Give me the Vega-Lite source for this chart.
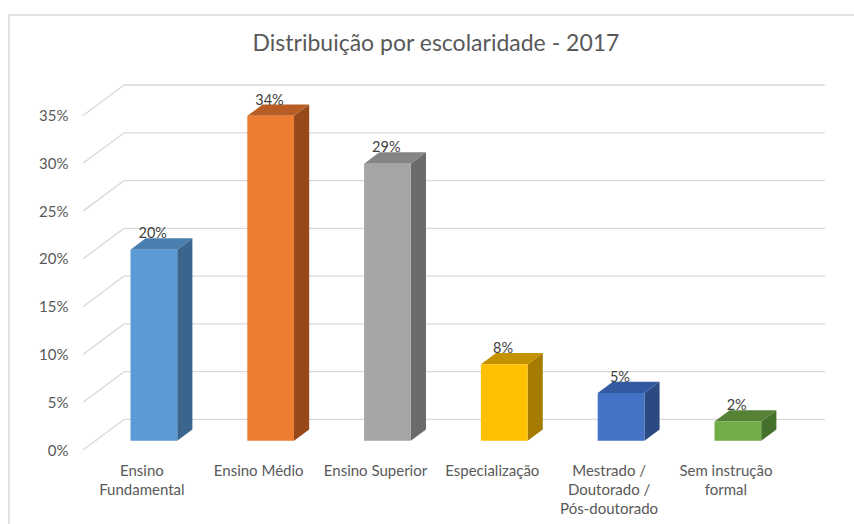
{
  "$schema": "https://vega.github.io/schema/vega-lite/v6.json",
  "width": 846,
  "height": 510,
  "autosize": {"type": "none"},
  "padding": {"left": 9, "top": 15, "right": 0, "bottom": 0},
  "background": "white",
  "config": {
    "view": {"stroke": "#D9D9D9", "strokeWidth": 1.5},
    "font": "Lato",
    "axis": {"domain": false, "ticks": false, "grid": false, "labelFont": "Lato", "labelFontSize": 15, "labelColor": "#595959"}
  },
  "title": {
    "text": "Distribuição por escolaridade - 2017",
    "font": "Lato",
    "fontSize": 23,
    "fontWeight": "normal",
    "color": "#595959",
    "anchor": "middle",
    "baseline": "alphabetic",
    "offset": -34,
    "dx": 4,
    "dy": 25
  },
  "datasets": {
    "bars": [
      {"cat": "Ensino Fundamental", "pct": 20},
      {"cat": "Ensino Médio", "pct": 34},
      {"cat": "Ensino Superior", "pct": 29},
      {"cat": "Especialização", "pct": 8},
      {"cat": "Mestrado / Doutorado / Pós-doutorado", "pct": 5},
      {"cat": "Sem instrução formal", "pct": 2}
    ],
    "ticks": [
      {"t": 0}, {"t": 5}, {"t": 10}, {"t": 15}, {"t": 20}, {"t": 25}, {"t": 30}, {"t": 35}
    ]
  },
  "resolve": {"scale": {"color": "independent"}},
  "layer": [
    {
      "data": {"name": "ticks"},
      "transform": [
        {"calculate": "0", "as": "gx0"},
        {"calculate": "3.2*0.11", "as": "gx1"},
        {"calculate": "datum.t + 3.2", "as": "gy1"}
      ],
      "mark": {"type": "rule", "color": "#D9D9D9", "strokeWidth": 1.3},
      "encoding": {
        "x": {"field": "gx0", "type": "quantitative", "scale": {"domain": [-0.6336, 6.6096], "nice": false, "zero": false},
          "axis": {"orient": "bottom", "offset": -75, "values": [0.5, 1.5, 2.5, 3.5, 4.5, 5.5],
            "labelExpr": "split(['Ensino|Fundamental','Ensino Médio','Ensino Superior','Especialização','Mestrado /|Doutorado /|Pós-doutorado','Sem instrução|formal'][floor(datum.value)], '|')",
            "labelBaseline": "top", "labelPadding": 13, "labelLineHeight": 19, "labelAlign": "center",
            "labelOverlap": false, "labelBound": false, "labelFlush": false, "title": null}},
        "x2": {"field": "gx1"},
        "y": {"field": "t", "type": "quantitative", "scale": {"domain": [-7.849, 45.526], "nice": false, "zero": false},
          "axis": {"orient": "left", "offset": -74, "values": [0, 5, 10, 15, 20, 25, 30, 35],
            "labelExpr": "datum.value + '%'", "labelPadding": 15, "labelOffset": 0, "title": null}},
        "y2": {"field": "gy1"}
      }
    },
    {
      "data": {"name": "ticks"},
      "transform": [
        {"calculate": "3.2*0.11", "as": "gx1"},
        {"calculate": "6 + 3.2*0.11", "as": "gx2"},
        {"calculate": "datum.t + 3.2", "as": "gy1"}
      ],
      "mark": {"type": "rule", "color": "#D9D9D9", "strokeWidth": 1.3},
      "encoding": {
        "x": {"field": "gx1", "type": "quantitative"},
        "x2": {"field": "gx2"},
        "y": {"field": "gy1", "type": "quantitative"}
      }
    },
    {
      "data": {"name": "bars"},
      "transform": [
        {"window": [{"op": "row_number", "as": "rn"}]},
        {"calculate": "datum.rn - 1", "as": "i"},
        {"calculate": "0.97", "as": "dF"},
        {"calculate": "2.15", "as": "dB"},
        {"fold": ["dF", "dB"], "as": ["face", "d"]},
        {"calculate": "datum.i + 0.7 + datum.d*0.11", "as": "sx"},
        {"calculate": "datum.d", "as": "sy0"},
        {"calculate": "datum.pct + datum.d", "as": "sy1"}
      ],
      "mark": {"type": "area", "orient": "vertical", "opacity": 1},
      "encoding": {
        "x": {"field": "sx", "type": "quantitative"},
        "y": {"field": "sy1", "type": "quantitative"},
        "y2": {"field": "sy0"},
        "detail": {"field": "cat"},
        "color": {"field": "cat", "type": "nominal", "legend": null,
          "scale": {"domain": ["Ensino Fundamental", "Ensino Médio", "Ensino Superior", "Especialização", "Mestrado / Doutorado / Pós-doutorado", "Sem instrução formal"],
            "range": ["#3A658D", "#97491A", "#6B6B6B", "#A67C00", "#2B4A82", "#45702B"]}}
      }
    },
    {
      "data": {"name": "bars"},
      "transform": [
        {"window": [{"op": "row_number", "as": "rn"}]},
        {"calculate": "datum.rn - 1", "as": "i"},
        {"calculate": "0.97", "as": "dF"},
        {"calculate": "2.15", "as": "dB"},
        {"fold": ["dF", "dB"], "as": ["face", "d"]},
        {"calculate": "datum.i + 0.3 + datum.d*0.11", "as": "tx0"},
        {"calculate": "datum.i + 0.7 + datum.d*0.11", "as": "tx1"},
        {"calculate": "datum.pct + datum.d", "as": "ty"}
      ],
      "mark": {"type": "area", "orient": "horizontal", "opacity": 1},
      "encoding": {
        "y": {"field": "ty", "type": "quantitative"},
        "x": {"field": "tx0", "type": "quantitative"},
        "x2": {"field": "tx1"},
        "detail": {"field": "cat"},
        "color": {"field": "cat", "type": "nominal", "legend": null,
          "scale": {"domain": ["Ensino Fundamental", "Ensino Médio", "Ensino Superior", "Especialização", "Mestrado / Doutorado / Pós-doutorado", "Sem instrução formal"],
            "range": ["#4A7EAE", "#B85E25", "#858585", "#C59300", "#3359A0", "#558235"]}}
      }
    },
    {
      "data": {"name": "bars"},
      "transform": [
        {"window": [{"op": "row_number", "as": "rn"}]},
        {"calculate": "datum.rn - 1", "as": "i"},
        {"calculate": "datum.i + 0.3 + 0.97*0.11", "as": "fx0"},
        {"calculate": "datum.i + 0.7 + 0.97*0.11", "as": "fx1"},
        {"calculate": "0.97", "as": "fy0"},
        {"calculate": "datum.pct + 0.97", "as": "fy1"}
      ],
      "mark": {"type": "rect"},
      "encoding": {
        "x": {"field": "fx0", "type": "quantitative"},
        "x2": {"field": "fx1"},
        "y": {"field": "fy0", "type": "quantitative"},
        "y2": {"field": "fy1"},
        "color": {"field": "cat", "type": "nominal", "legend": null,
          "scale": {"domain": ["Ensino Fundamental", "Ensino Médio", "Ensino Superior", "Especialização", "Mestrado / Doutorado / Pós-doutorado", "Sem instrução formal"],
            "range": ["#5B9BD5", "#ED7D31", "#A5A5A5", "#FFC000", "#4472C4", "#70AD47"]}}
      }
    },
    {
      "data": {"name": "bars"},
      "transform": [
        {"window": [{"op": "row_number", "as": "rn"}]},
        {"calculate": "datum.rn - 1", "as": "i"},
        {"calculate": "datum.i + 0.49 + 0.97*0.11", "as": "lx"},
        {"calculate": "datum.pct + 2.15", "as": "ly"},
        {"calculate": "datum.pct + '%'", "as": "lbl"}
      ],
      "mark": {"type": "text", "font": "Lato", "fontSize": 14.5, "color": "#404040", "baseline": "alphabetic", "align": "center"},
      "encoding": {
        "x": {"field": "lx", "type": "quantitative"},
        "y": {"field": "ly", "type": "quantitative"},
        "text": {"field": "lbl"}
      }
    }
  ]
}
